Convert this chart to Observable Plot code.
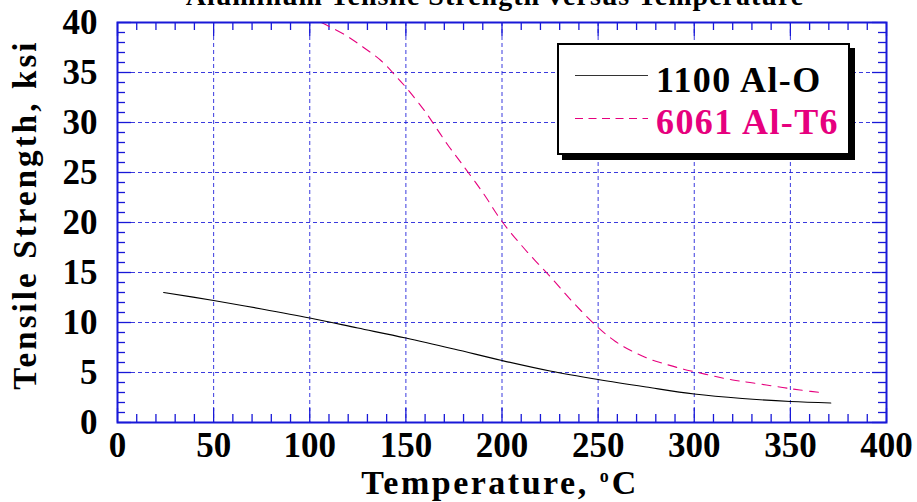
<!DOCTYPE html>
<html>
<head>
<meta charset="utf-8">
<script src="https://cdn.jsdelivr.net/npm/d3@7"></script>
<script src="https://cdn.jsdelivr.net/npm/@observablehq/plot@0.6"></script>
<style>
  html, body { margin: 0; padding: 0; background: #fff; }
  #wrap { position: relative; width: 917px; height: 502px; overflow: hidden; font-family: "Liberation Serif", "Times New Roman", serif; font-weight: bold; }
  #title { position: absolute; left: 0; width: 990px; text-align: center; top: -18px; font-size: 28px; line-height: 28px; letter-spacing: 1px; white-space: nowrap; }
  #xlab { position: absolute; left: 0; width: 1000px; text-align: center; top: 465.5px; font-size: 34px; line-height: 34px; letter-spacing: 2.5px; white-space: nowrap; }
  #xlab sup { font-size: 18px; vertical-align: 12px; line-height: 0; letter-spacing: 3px; }
  #ylab { position: absolute; width: 440px; height: 33px; left: -195px; top: 197.5px; text-align: center; font-size: 33px; line-height: 33px; letter-spacing: 3.1px; transform: rotate(-90deg); white-space: nowrap; }
  #legend { position: absolute; left: 557px; top: 43px; width: 289px; height: 108px; border: 2px solid #000; background: #fff; box-shadow: 5px 5px 0 #000; }
  #legend svg { position: absolute; left: 0; top: 0; }
  .lab { position: absolute; left: 97px; font-size: 36px; line-height: 36px; letter-spacing: 1.4px; white-space: nowrap; }
</style>
</head>
<body>
<div id="wrap">
  <div id="chart"></div>
  <div id="title">Aluminum Tensile Strength versus Temperature</div>
  <div id="xlab">Temperature, <sup>o</sup>C</div>
  <div id="ylab">Tensile Strength, ksi</div>
  <div id="legend"></div>
</div>
<script>
// ---- data ----
const seriesNames = ["1100 Al-O", "6061 Al-T6"];
const seriesColors = ["#000000", "#e6007e"];

const al1100Temp = [24, 50, 75, 100, 125, 150, 175, 200, 225, 250, 275, 300, 325, 350, 371];
const al1100Strength = [13.0, 12.2, 11.35, 10.45, 9.45, 8.45, 7.35, 6.2, 5.15, 4.3, 3.55, 2.85, 2.4, 2.1, 1.95];

const al6061Temp = [106, 118, 128, 137, 145, 151, 160, 166, 172, 179, 190, 200, 212, 225, 237, 250, 259, 267, 276, 284, 293, 302, 310, 320, 329, 346, 355, 368];
const al6061Strength = [40, 38.8, 37.5, 36.2, 34.6, 33.3, 31.1, 29.4, 27.7, 25.9, 23.0, 20.1, 17.3, 14.6, 12.0, 9.5, 8.1, 7.2, 6.4, 5.9, 5.4, 5.0, 4.65, 4.25, 4.0, 3.5, 3.25, 2.95];

const xTicks = [0, 50, 100, 150, 200, 250, 300, 350, 400];
const yTicks = [0, 5, 10, 15, 20, 25, 30, 35, 40];
const xMinorTicks = d3.range(0, 401, 10);
const yMinorTicks = d3.range(0, 41, 1);

// ---- build ----
const rows1100 = al1100Temp.map((t, i) => ({t, s: al1100Strength[i]}));
const rows6061 = al6061Temp.map((t, i) => ({t, s: al6061Strength[i]}));

const W = 917, H = 502, mL = 117, mR = 31, mT = 22, mB = 80;
const fw = W - mL - mR, fh = H - mT - mB;
const blue = "#1818d8";
const minorLen = 8, majorLen = 14;
const xMinorOnly = xMinorTicks.filter(v => !xTicks.includes(v));
const yMinorOnly = yMinorTicks.filter(v => !yTicks.includes(v));

const chart = Plot.plot({
  width: W, height: H,
  marginLeft: mL, marginRight: mR, marginTop: mT, marginBottom: mB,
  style: {fontFamily: "'Liberation Serif', 'Times New Roman', serif", fontWeight: "bold", fontSize: "35px", color: "#000", background: "transparent", overflow: "visible"},
  x: {domain: [0, 400]},
  y: {domain: [0, 40]},
  marks: [
    Plot.gridX(xTicks, {stroke: blue, strokeOpacity: 0.85, strokeDasharray: "4,3", strokeWidth: 1}),
    Plot.gridY(yTicks, {stroke: blue, strokeOpacity: 0.85, strokeDasharray: "4,3", strokeWidth: 1}),
    // inward ticks, bottom & top
    Plot.ruleX(xMinorOnly, {x: d => d, insetTop: fh - minorLen, stroke: blue, strokeWidth: 1.3}),
    Plot.ruleX(xMinorOnly, {x: d => d, insetBottom: fh - minorLen, stroke: blue, strokeWidth: 1.3}),
    Plot.ruleX(xTicks, {x: d => d, insetTop: fh - majorLen, stroke: blue, strokeWidth: 1.3}),
    Plot.ruleX(xTicks, {x: d => d, insetBottom: fh - majorLen, stroke: blue, strokeWidth: 1.3}),
    // inward ticks, left & right
    Plot.ruleY(yMinorOnly, {y: d => d, insetRight: fw - minorLen, stroke: blue, strokeWidth: 1.3}),
    Plot.ruleY(yMinorOnly, {y: d => d, insetLeft: fw - minorLen, stroke: blue, strokeWidth: 1.3}),
    Plot.ruleY(yTicks, {y: d => d, insetRight: fw - majorLen, stroke: blue, strokeWidth: 1.3}),
    Plot.ruleY(yTicks, {y: d => d, insetLeft: fw - majorLen, stroke: blue, strokeWidth: 1.3}),
    Plot.line(rows1100, {x: "t", y: "s", stroke: seriesColors[0], strokeWidth: 1.2, curve: "catmull-rom"}),
    Plot.line(rows6061, {x: "t", y: "s", stroke: seriesColors[1], strokeWidth: 1.1, strokeDasharray: "9,7", curve: "catmull-rom"}),
    Plot.frame({stroke: blue, strokeWidth: 2}),
    Plot.axisX(xTicks, {tickSize: 0, tickPadding: 10, label: null, tickFormat: d3.format("d"), fontSize: 35, fontWeight: "bold"}),
    Plot.axisY(yTicks, {tickSize: 0, tickPadding: 20, label: null, tickFormat: d3.format("d"), fontSize: 35, fontWeight: "bold"})
  ]
});
document.getElementById("chart").appendChild(chart);

// ---- legend ----
const legend = document.getElementById("legend");
const lineYs = [30, 73];
const labelTops = [17, 59];
let svgLines = "";
seriesNames.forEach((name, i) => {
  svgLines += `<line x1="16" x2="89" y1="${lineYs[i] + 0.5}" y2="${lineYs[i] + 0.5}" stroke="${i === 0 ? '#333' : seriesColors[i]}" stroke-width="1.2" ${i === 1 ? 'stroke-dasharray="8,5.5"' : ''}/>`;
  const lab = document.createElement("div");
  lab.className = "lab";
  lab.style.top = labelTops[i] + "px";
  lab.style.color = seriesColors[i];
  lab.textContent = name;
  legend.appendChild(lab);
});
legend.insertAdjacentHTML("afterbegin", `<svg width="289" height="108">${svgLines}</svg>`);
</script>
</body>
</html>
